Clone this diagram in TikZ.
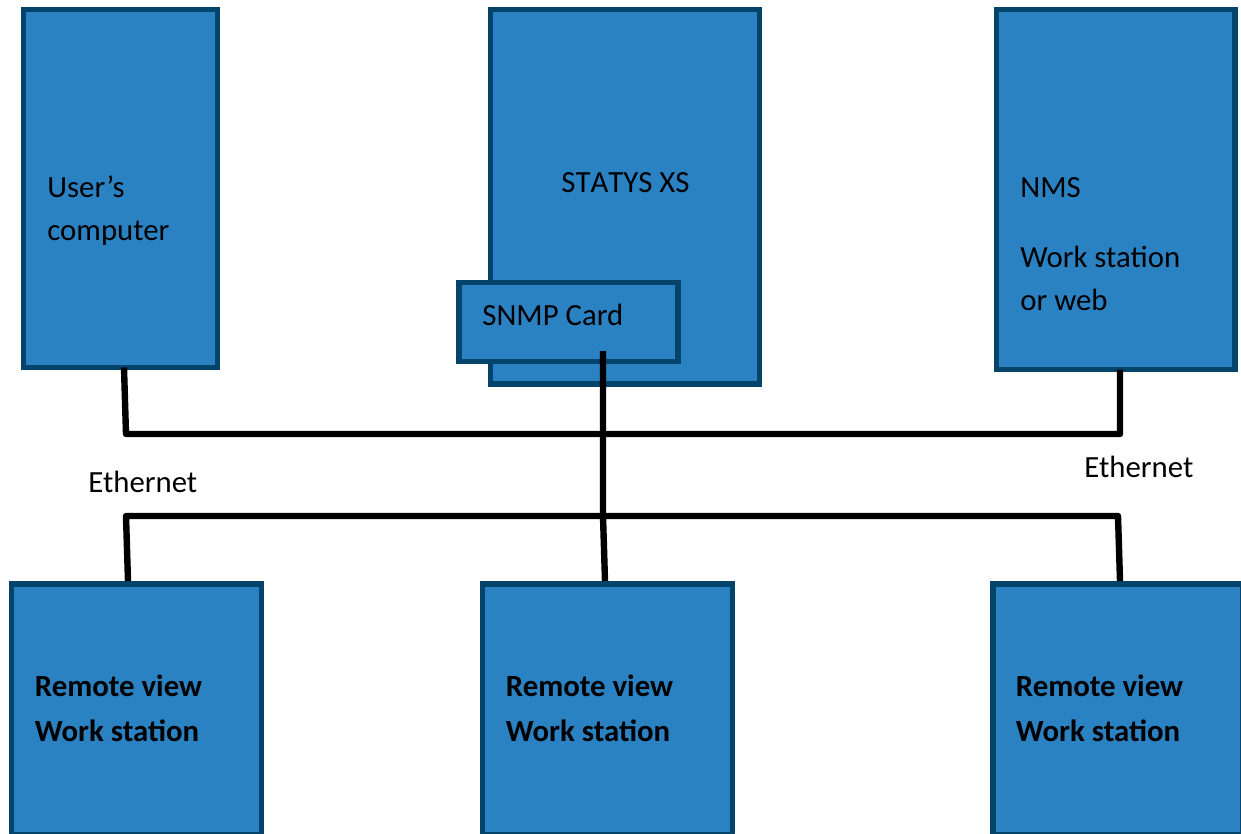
\documentclass[tikz,border=0pt]{standalone}
\usepackage{fontspec}
\setmainfont{Carlito}
\begin{document}
\begin{tikzpicture}[x=0.5pt,y=-0.5pt]
	\tikzset{block/.style={draw=boxedge,fill=boxfill,line width=2.8pt,outer sep=0pt},
		label/.style={anchor=base west,inner sep=0pt,font=\fontsize{15.4}{15.4}\selectfont,text=black,align=left},
		boldlabel/.style={label,font=\fontsize{15.4}{22.5}\selectfont\bfseries},
		wire/.style={draw=black,line width=3.2pt,line join=round}}
	\definecolor{boxfill}{HTML}{2A82C2}
	\definecolor{boxedge}{HTML}{04446A}
	\useasboundingbox (0,0) rectangle (1241,834);
	\clip (0,0) rectangle (1241,834);
	\node [block, minimum width=97pt, minimum height=179pt] (user) at (120.5,188.5) {};
	\node [block, minimum width=134.5pt, minimum height=187.25pt] (statys) at (625,196.75) {};
	\node [block, minimum width=119.25pt, minimum height=180pt] (nms) at (1115.75,189.5) {};
	\node [block, minimum width=109.5pt, minimum height=39.5pt] (snmp) at (568.5,322) {};
	\node [block, minimum width=125pt, minimum height=125.5pt] (viewa) at (136.5,709.5) {};
	\node [block, minimum width=125pt, minimum height=125.5pt] (viewb) at (607.5,709.5) {};
	\node [block, minimum width=125pt, minimum height=125.5pt] (viewc) at (1118,709.5) {};
	\node [label] (userlabel) at (47,198) {User’s};
	\node [label] (complabel) at (47,241) {computer};
	\node [label, font=\fontsize{15.4}{15.4}\selectfont\addfontfeature{Kerning=Off}] (statyslabel) at (561,193) {STATYS XS};
	\node [label] (nmslabel) at (1020,198) {NMS};
	\node [label] (worklabel) at (1020,267) {Work station};
	\node [label] (weblabel) at (1020,310) {or web};
	\node [label] (snmplabel) at (482,325) {SNMP Card};
	\node [label] (etherleft) at (88,492) {Ethernet};
	\node [label] (etherright) at (1084,477) {Ethernet};
	\foreach \name/\xpos in {a/34.5,b/505.5,c/1015.5} {
		\node [boldlabel] (remote\name) at (\xpos,696) {Remote view};
		\node [boldlabel] (station\name) at (\xpos,741) {Work station};
	}
	\coordinate (upleft) at (126,434);
	\coordinate (upright) at (1120,434);
	\coordinate (lowleft) at (126,516);
	\coordinate (lowmid) at (603,516);
	\coordinate (lowright) at (1118,516);
	\coordinate (cardtap) at (603,351);
	\path[wire] ([xshift=1.75pt]user.south) -- (upleft) -- (upright) -- ([xshift=2.125pt]nms.south);
	\path[wire] (cardtap) -- (lowmid) -- ([xshift=-1.25pt,yshift=1.4pt]viewb.north);
	\path[wire] ([xshift=-4.25pt,yshift=1.4pt]viewa.north) -- (lowleft) -- (lowright) -- ([xshift=1pt,yshift=1.4pt]viewc.north);
\end{tikzpicture}
\end{document}
